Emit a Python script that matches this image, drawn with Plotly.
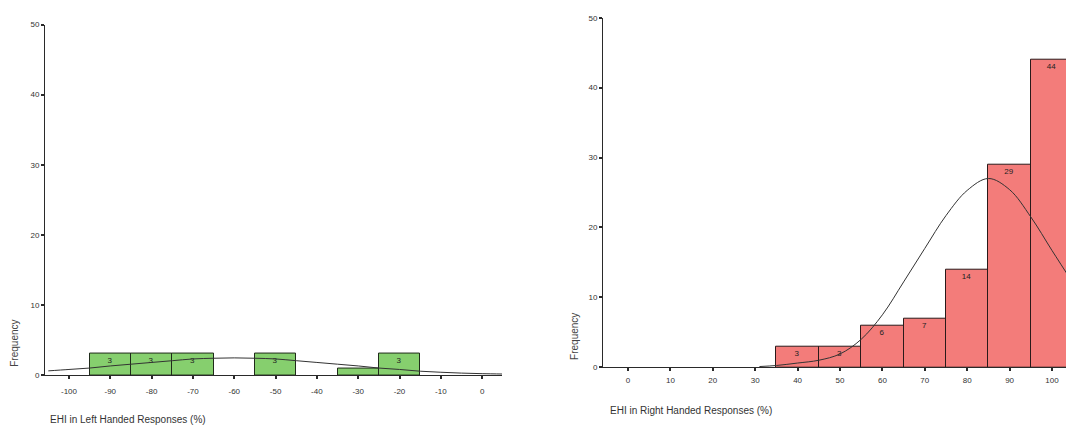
import plotly.graph_objects as go

# Left-handed histogram
left_bins = [-90, -80, -70, -50, -30, -20]
left_counts = [3, 3, 3, 3, 1, 3]
left_curve_x = [-105, -100, -95, -90, -85, -80, -75, -70, -65, -60, -55, -50, -45, -40, -35, -30, -25, -20, -15, -10, -5, 0, 5]
left_curve_y = [0.6, 0.8, 1.0, 1.3, 1.55, 1.8, 2.05, 2.3, 2.4, 2.45, 2.4, 2.3, 2.05, 1.8, 1.55, 1.3, 1.0, 0.8, 0.55, 0.4, 0.28, 0.2, 0.15]
left_ticks = [-100, -90, -80, -70, -60, -50, -40, -30, -20, -10, 0]

# Right-handed histogram
right_bins = [40, 50, 60, 70, 80, 90, 100]
right_counts = [3, 3, 6, 7, 14, 29, 44]
right_curve_x = [31, 35, 40, 45, 50, 55, 60, 65, 70, 75, 80, 85, 90, 95, 100, 105]
right_curve_y = [0.1, 0.25, 0.6, 1.0, 1.9, 4.0, 7.5, 12.2, 17.0, 21.7, 25.3, 27.0, 25.4, 21.5, 16.7, 12.0]
right_ticks = [0, 10, 20, 30, 40, 50, 60, 70, 80, 90, 100]

y_ticks = [0, 10, 20, 30, 40, 50]

W, H = 1066, 430
FONT = "Liberation Sans, Arial, sans-serif"
AX = "#2a2a2a"

fig = go.Figure()

fig.add_trace(go.Bar(
    x=left_bins, y=left_counts, width=10,
    marker=dict(color="#86cf6e", line=dict(color="#1f2a1a", width=1)),
    text=[str(c) if c > 1 else "" for c in left_counts],
    textposition="inside", insidetextanchor="end",
    textfont=dict(size=8, color="#222", family=FONT),
    xaxis="x", yaxis="y", showlegend=False,
))
fig.add_trace(go.Scatter(
    x=left_curve_x, y=left_curve_y, mode="lines",
    line=dict(color="#333", width=1, shape="spline"),
    xaxis="x", yaxis="y", showlegend=False,
))

fig.add_trace(go.Bar(
    x=right_bins, y=right_counts, width=10,
    marker=dict(color="#f37c7a", line=dict(color="#2a1a1a", width=1)),
    text=[str(c) for c in right_counts],
    textposition="inside", insidetextanchor="end",
    textfont=dict(size=8, color="#222", family=FONT),
    xaxis="x2", yaxis="y2", showlegend=False,
))
fig.add_trace(go.Scatter(
    x=right_curve_x, y=right_curve_y, mode="lines",
    line=dict(color="#333", width=1, shape="spline"),
    xaxis="x2", yaxis="y2", showlegend=False,
))

common_x = dict(showgrid=False, zeroline=False, showline=True, linecolor=AX, linewidth=1,
                ticks="outside", ticklen=3, tickwidth=2, tickcolor=AX,
                tickfont=dict(size=8, color="#333", family=FONT))
common_y = dict(showgrid=False, zeroline=False, showline=True, linecolor=AX, linewidth=1,
                ticks="outside", ticklen=3, tickwidth=2, tickcolor=AX,
                tickfont=dict(size=8, color="#333", family=FONT),
                tickvals=y_ticks, ticktext=[str(v) for v in y_ticks], range=[0, 50])

fig.update_layout(
    width=W, height=H,
    margin=dict(l=0, r=0, t=0, b=0),
    paper_bgcolor="white", plot_bgcolor="white",
    bargap=0,
    xaxis=dict(domain=[45 / W, 502 / W], range=[-105.8, 4.8], tickvals=left_ticks,
               ticktext=[str(v) for v in left_ticks], anchor="y",
               ticklabelstandoff=5, **common_x),
    yaxis=dict(domain=[1 - 379 / H, 1 - 21 / H], anchor="x", **common_y),
    xaxis2=dict(domain=[603 / W, 1.0], range=[-5.9, 103.3], tickvals=right_ticks,
                ticktext=[str(v) for v in right_ticks], anchor="y2",
                ticklabelstandoff=2, **common_x),
    yaxis2=dict(domain=[1 - 371 / H, 1 - 14 / H], anchor="x2", **common_y),
    annotations=[
        dict(text="Frequency", xref="paper", yref="paper", x=15 / W, y=1 - 347 / H,
             xanchor="center", yanchor="middle",
             textangle=-90, showarrow=False, font=dict(size=10, color="#444", family=FONT)),
        dict(text="Frequency", xref="paper", yref="paper", x=575 / W, y=1 - 340 / H,
             xanchor="center", yanchor="middle",
             textangle=-90, showarrow=False, font=dict(size=10, color="#444", family=FONT)),
        dict(text="EHI in Left Handed Responses (%)", xref="paper", yref="paper",
             x=48 / W, y=1 - 424 / H, xanchor="left", yanchor="middle", showarrow=False,
             font=dict(size=10, color="#333", family=FONT)),
        dict(text="EHI in Right Handed Responses (%)", xref="paper", yref="paper",
             x=608 / W, y=1 - 415 / H, xanchor="left", yanchor="middle", showarrow=False,
             font=dict(size=10, color="#333", family=FONT)),
    ],
)

fig.write_html("out.html", config={"displayModeBar": False},
               post_script="document.body.style.margin='0';document.body.style.overflow='hidden';")
